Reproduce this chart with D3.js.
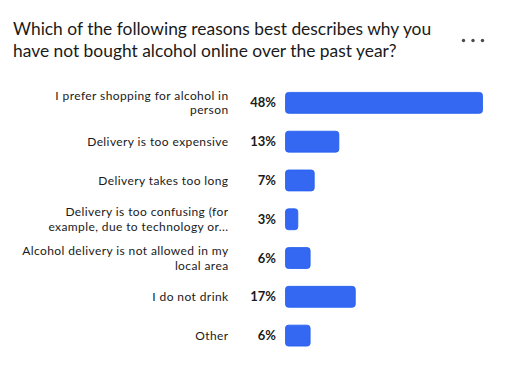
<!DOCTYPE html>
<html><head><meta charset="utf-8">
<script src="https://cdn.jsdelivr.net/npm/d3@7"></script>
<style>body{margin:0;background:#fff;} text{font-family:Lato, "Open Sans", sans-serif;}</style>
</head><body>
<svg id="c" width="512" height="376"></svg>
<script>
const titleLines = ["Which of the following reasons best describes why you", "have not bought alcohol online over the past year?"];
const categories = [
  ["I prefer shopping for alcohol in", "person"],
  ["Delivery is too expensive"],
  ["Delivery takes too long"],
  ["Delivery is too confusing (for", "example, due to technology or..."],
  ["Alcohol delivery is not allowed in my", "local area"],
  ["I do not drink"],
  ["Other"]
];
const values = [48, 13, 7, 3, 6, 17, 6];

const svg = d3.select("#c");
svg.append("rect").attr("width",512).attr("height",376).attr("fill","#fff");

svg.selectAll("text.title").data(titleLines).join("text")
  .attr("class","title").attr("x",13).attr("y",(d,i)=>34.5+i*22)
  .attr("font-size",17.4).attr("fill","#1a1a1a").text(d=>d);

svg.selectAll("circle.dot").data([0,1,2]).join("circle")
  .attr("cx",d=>463.5+d*9.5).attr("cy",40.5).attr("r",1.7).attr("fill","#4a4a4a");

const idx = d3.range(values.length);
const y = d3.scaleBand().domain(idx).range([83.5, 355]).paddingInner(0.46).paddingOuter(0.23);
const x = d3.scaleLinear().domain([0, 48]).range([285.5, 482.5]);

const g = svg.append("g");
g.selectAll("rect.bar").data(idx).join("rect")
  .attr("class","bar")
  .attr("x", x(0)).attr("y", i=>y(i))
  .attr("width", i=>x(values[i])-x(0)).attr("height", y.bandwidth())
  .attr("rx",3).attr("fill","#3468f2").attr("stroke","#215cf0").attr("stroke-width",0.8);

g.selectAll("text.val").data(idx).join("text")
  .attr("class","val").attr("x",276).attr("y",i=>y(i)+y.bandwidth()/2+4.5)
  .attr("text-anchor","end").attr("font-size",13).attr("font-weight","bold").attr("fill","#1a1a1a")
  .text(i=>values[i]+"%");

const LH = 14.5;
categories.forEach((lines, i) => {
  const c = y(i)+y.bandwidth()/2+4.3;
  const start = c - (lines.length-1)*LH/2;
  lines.forEach((line, k) => {
    g.append("text").attr("class","lab")
      .attr("x",228.5).attr("y",start+k*LH)
      .attr("text-anchor","end").attr("font-size",12).attr("letter-spacing",0.4)
      .attr("fill","#1a1a1a").text(line);
  });
});
</script>
</body></html>
